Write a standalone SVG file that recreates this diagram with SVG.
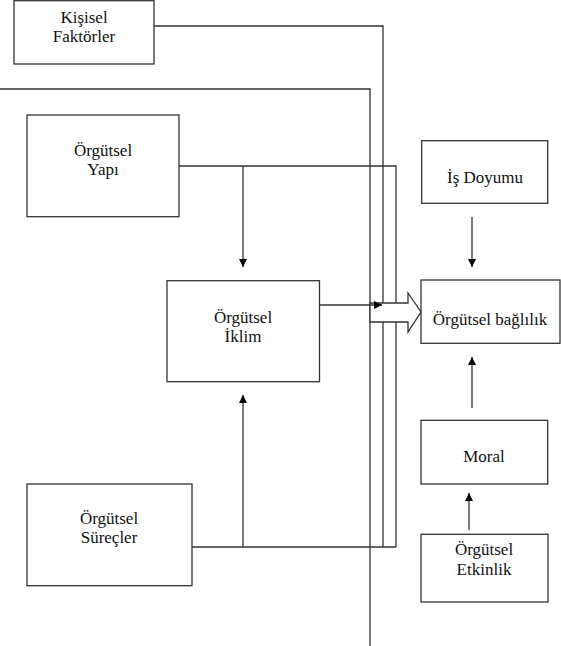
<svg xmlns="http://www.w3.org/2000/svg" width="561" height="646" viewBox="0 0 561 646">
<style>
.box{fill:#fff;stroke:#333;stroke-width:1.3}
.ln{fill:none;stroke:#333;stroke-width:1.3}
</style>
<defs>
<marker id="ah" viewBox="0 0 10 10" refX="10" refY="5" markerWidth="8" markerHeight="8" markerUnits="userSpaceOnUse" orient="auto">
<path d="M0,0 L10,5 L0,10 z" fill="#000"/>
</marker>
</defs>
<g id="connectors">
<polyline class="ln" points="154,26 383,26 383,547"/>
<polyline class="ln" points="0,89 370,89 370,646"/>
<polyline class="ln" points="179,166 396,166 396,547"/>
<line class="ln" x1="192" y1="547" x2="396" y2="547"/>
<line class="ln" x1="243" y1="166" x2="243" y2="267" marker-end="url(#ah)"/>
<line class="ln" x1="243" y1="547" x2="243" y2="395" marker-end="url(#ah)"/>
<polygon class="box" points="370,303 408,303 408,293 421,312 408,332 408,322 370,322"/>
<line class="ln" x1="320" y1="305" x2="382" y2="305" marker-end="url(#ah)"/>
<line class="ln" x1="472" y1="217" x2="472" y2="267" marker-end="url(#ah)"/>
<line class="ln" x1="472" y1="408" x2="472" y2="357" marker-end="url(#ah)"/>
<line class="ln" x1="469" y1="530" x2="469" y2="493" marker-end="url(#ah)"/>
</g>
<g font-family="Liberation Serif" font-size="17" fill="#111" text-anchor="middle">
<g id="kisisel">
<rect class="box" x="14" y="0.7" width="140" height="63.3"/>
<text x="84" y="23">Kişisel</text>
<text x="84" y="42">Faktörler</text>
</g>
<g id="yapi">
<rect class="box" x="27" y="115" width="152" height="101.7"/>
<text x="103" y="156">Örgütsel</text>
<text x="103" y="175">Yapı</text>
</g>
<g id="iklim">
<rect class="box" x="167" y="280.7" width="152.5" height="101"/>
<text x="243" y="323">Örgütsel</text>
<text x="243" y="342">İklim</text>
</g>
<g id="surecler">
<rect class="box" x="27" y="484" width="165" height="101.7"/>
<text x="109" y="524">Örgütsel</text>
<text x="109" y="543">Süreçler</text>
</g>
<g id="isdoyumu">
<rect class="box" x="421.7" y="140.7" width="126" height="62.6"/>
<text x="485" y="183">İş Doyumu</text>
</g>
<g id="baglilik">
<rect class="box" x="421" y="280" width="139" height="63.3"/>
<text x="490" y="325">Örgütsel bağlılık</text>
</g>
<g id="moral">
<rect class="box" x="421" y="420.3" width="126.7" height="63.7"/>
<text x="484" y="462">Moral</text>
</g>
<g id="etkinlik">
<rect class="box" x="421" y="534.3" width="127" height="67.7"/>
<text x="484" y="555">Örgütsel</text>
<text x="484" y="575">Etkinlik</text>
</g>
</g>
</svg>
